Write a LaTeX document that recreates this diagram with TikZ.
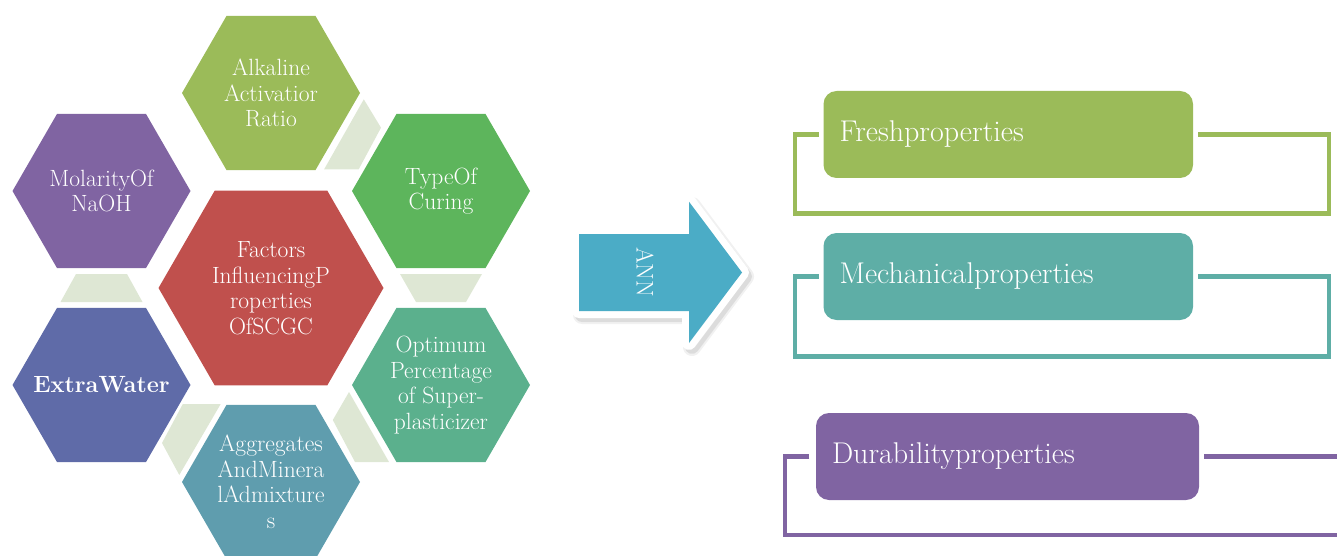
\documentclass[tikz,border=0pt]{standalone}
\usetikzlibrary{calc}
\definecolor{calk}{HTML}{9BBB59}
\definecolor{ctyp}{HTML}{5DB55C}
\definecolor{cmol}{HTML}{8064A2}
\definecolor{cctr}{HTML}{C0504D}
\definecolor{cext}{HTML}{5F6BA8}
\definecolor{copt}{HTML}{5BB08D}
\definecolor{cagg}{HTML}{5F9DAE}
\definecolor{cconn}{HTML}{DEE7D4}
\definecolor{carrow}{HTML}{4BACC6}
\definecolor{cfresh}{HTML}{9BBB59}
\definecolor{cmech}{HTML}{5EAEA6}
\definecolor{cdur}{HTML}{8064A2}
\newcommand\hexfill[3]{\fill[#3] (#1) ++(0:#2) -- ++(120:#2) -- ++(180:#2) -- ++(240:#2) -- ++(300:#2) -- ++(0:#2) -- cycle;}
\begin{document}
\begin{tikzpicture}[x=1pt,y=-1pt,
  hextext/.style={text=white, align=center, inner sep=0pt, font=\fontsize{23.5}{25.5}\selectfont},
  propbox/.style={rounded corners=13pt, minimum height=87pt, inner xsep=16pt, inner ysep=0pt, text=white, align=left, font=\fontsize{30}{34}\selectfont},
  bracket/.style={line width=4.5pt, line join=miter},
  conn/.style={fill=cconn}]
\useasboundingbox (0,0) rectangle (1337,556);
% hexagon centres
\coordinate (pAlk) at (271,93);
\coordinate (pMol) at (101.5,191);
\coordinate (pTyp) at (441,191);
\coordinate (pCtr) at (271,288);
\coordinate (pExt) at (101.5,385);
\coordinate (pOpt) at (441,385);
\coordinate (pAgg) at (271,482);
% connectors between hexagons
\fill[conn] (363.8,99.3) -- (381,127.7) -- (358.6,169.5) -- (324,169.5) -- cycle;
\fill[conn] (400,274) -- (482,274) -- (466,302) -- (416,302) -- cycle;
\fill[conn] (349,392) -- (389,462) -- (355,462) -- (332.8,420) -- cycle;
\fill[conn] (182.8,404) -- (220.7,404) -- (179.3,475) -- (162,443) -- cycle;
\fill[conn] (76,274) -- (127,274) -- (142.5,302) -- (60.5,302) -- cycle;
% hexagons
\hexfill{pAlk}{89}{calk}
\hexfill{pMol}{89}{cmol}
\hexfill{pTyp}{89}{ctyp}
\hexfill{pCtr}{112.5}{cctr}
\hexfill{pExt}{89}{cext}
\hexfill{pOpt}{89}{copt}
\hexfill{pAgg}{89}{cagg}
\node[hextext] (alk) at (pAlk) {Alkaline\\Activatior\\Ratio};
\node[hextext] (mol) at (pMol) {MolarityOf\\NaOH};
\node[hextext] (typ) at (pTyp) {TypeOf\\Curing};
\node[hextext] (ctr) at (pCtr) {Factors\\InfluencingP\\roperties\\OfSCGC};
\node[hextext] (ext) at (pExt) {\textbf{ExtraWater}};
\node[hextext] (opt) at (pOpt) {Optimum\\Percentage\\of Super-\\plasticizer};
\node[hextext] (agg) at (pAgg) {Aggregates\\AndMinera\\lAdmixture\\s};
% arrow
\path[fill=black!55, draw=black!55, opacity=0.16, line width=14pt, line join=round] (582,238) -- (692,238) -- (692,206) -- (745,276.5) -- (692,347) -- (692,315) -- (582,315) -- cycle;
\path[fill=black!55, draw=black!55, opacity=0.10, line width=18pt, line join=round] (582,238) -- (692,238) -- (692,206) -- (745,276.5) -- (692,347) -- (692,315) -- (582,315) -- cycle;
\path[fill=white, draw=white, line width=14pt, line join=round] (579,234) -- (689,234) -- (689,201.7) -- (742,272.5) -- (689,343) -- (689,311) -- (579,311) -- cycle;
\fill[carrow] (579,234) -- (689,234) -- (689,201.7) -- (742,272.5) -- (689,343) -- (689,311) -- (579,311) -- cycle;
\node[rotate=-90, text=white, inner sep=0pt, font=\fontsize{24}{26}\selectfont] (ann) at (645,272) {ANN};
% property boxes
\node[propbox, fill=cfresh, minimum width=369.5pt, text width=337.5pt] (fresh) at (1008.25,134.5) {Freshproperties};
\node[propbox, fill=cmech, minimum width=369.5pt, text width=337.5pt] (mech) at (1008.25,276.5) {Mechanicalproperties};
\node[propbox, fill=cdur, minimum width=383pt, text width=351pt] (dur) at (1007.5,456.5) {Durabilityproperties};
% brackets
\coordinate (fBL) at (795,213.3);
\coordinate (fBR) at (1329,213.3);
\coordinate (mBL) at (795,356.7);
\coordinate (mBR) at (1329,356.7);
\coordinate (dBL) at (785,535);
\coordinate (dBR) at (1337,535);
\coordinate (dR) at (1337,457);
\draw[bracket, cfresh] ([xshift=-4.5pt]fresh.west) -| (fBL) -| (fBR |- fresh.east) -- ([xshift=4.5pt]fresh.east);
\draw[bracket, cmech] ([xshift=-4.5pt]mech.west) -| (mBL) -| (mBR |- mech.east) -- ([xshift=4.5pt]mech.east);
\draw[bracket, cdur] ([xshift=-6.5pt]dur.west) -| (dBL) -- (dBR);
\draw[bracket, cdur] ([xshift=5pt]dur.east) -- (dR |- dur.east);
\end{tikzpicture}
\end{document}
